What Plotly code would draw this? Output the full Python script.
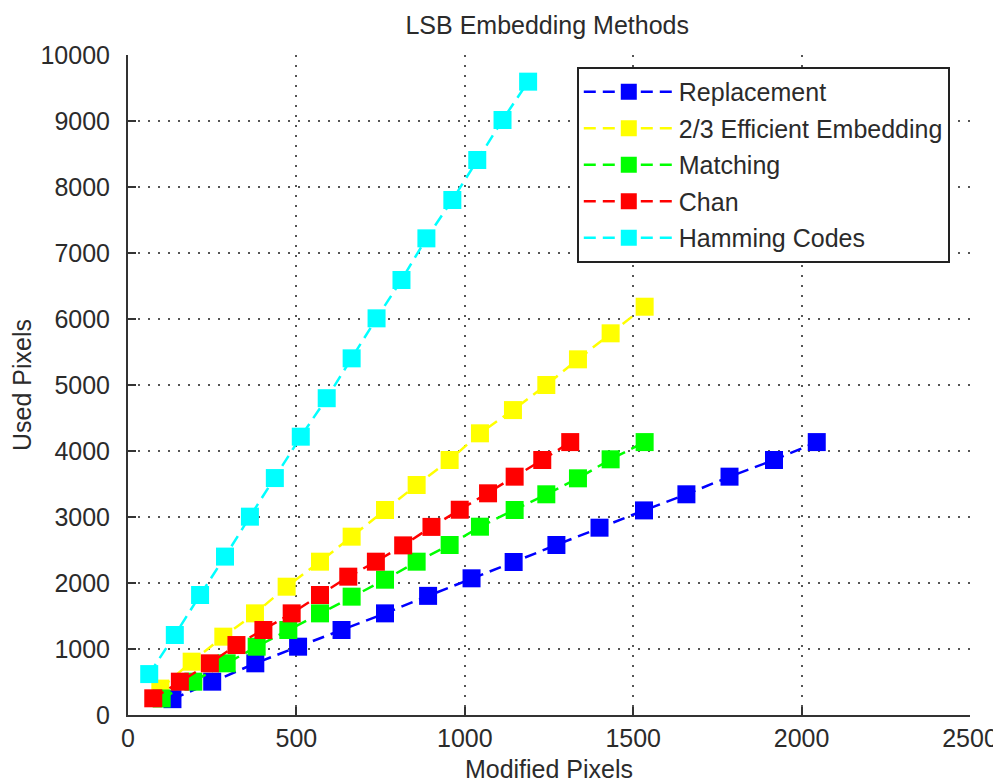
import plotly.graph_objects as go

# Data
series_names = ["Replacement", "2/3 Efficient Embedding", "Matching", "Chan", "Hamming Codes"]
series_colors = ["#0000FF", "#FFFF00", "#00FF00", "#FF0000", "#00FFFF"]

replacement_x = [132, 250, 378, 505, 634, 763, 891, 1020, 1145, 1272, 1400, 1532, 1658, 1786, 1918, 2045]
replacement_y = [240, 505, 783, 1035, 1288, 1540, 1805, 2071, 2318, 2576, 2838, 3100, 3344, 3611, 3864, 4135]

efficient_x = [96, 189, 283, 377, 471, 570, 664, 763, 857, 955, 1045, 1143, 1242, 1336, 1433, 1534]
efficient_y = [400, 808, 1187, 1540, 1944, 2323, 2702, 3106, 3485, 3864, 4268, 4620, 5000, 5389, 5783, 6186]

matching_x = [100, 194, 293, 382, 476, 570, 664, 763, 857, 955, 1045, 1148, 1242, 1336, 1433, 1534]
matching_y = [250, 505, 783, 1035, 1288, 1540, 1793, 2050, 2323, 2576, 2853, 3106, 3344, 3586, 3874, 4135]

chan_x = [75, 154, 243, 322, 402, 486, 570, 654, 736, 817, 901, 985, 1069, 1148, 1230, 1313]
chan_y = [253, 505, 783, 1060, 1288, 1540, 1818, 2096, 2323, 2570, 2850, 3110, 3359, 3611, 3864, 4135]

hamming_x = [63, 139, 214, 288, 362, 436, 513, 590, 664, 738, 812, 886, 963, 1037, 1112, 1188]
hamming_y = [620, 1212, 1818, 2400, 3005, 3590, 4217, 4800, 5404, 6010, 6591, 7222, 7803, 8409, 9015, 9596]

x_ticks = [0, 500, 1000, 1500, 2000, 2500]
y_ticks = [0, 1000, 2000, 3000, 4000, 5000, 6000, 7000, 8000, 9000, 10000]

title_text = "LSB Embedding Methods"
x_title = "Modified Pixels"
y_title = "Used Pixels"

xs = [replacement_x, efficient_x, matching_x, chan_x, hamming_x]
ys = [replacement_y, efficient_y, matching_y, chan_y, hamming_y]

FONT = "Liberation Sans, Arial, sans-serif"
TXT = "#2b2b2b"
FS = 25

fig = go.Figure()
for name, color, x, y in zip(series_names, series_colors, xs, ys):
    fig.add_trace(go.Scatter(
        x=x, y=y, name=name, mode="lines+markers", legendgroup=name,
        line=dict(color=color, width=2.5, dash="12px,7px"),
        marker=dict(symbol="square", size=18, color=color, line=dict(width=0)),
    ))

# the page body has an 8px default margin, so the figure is 8px smaller
fig.update_layout(
    width=993, height=775,
    margin=dict(l=120, r=31, t=47, b=68, autoexpand=False),
    paper_bgcolor="white", plot_bgcolor="white",
    font=dict(family=FONT, size=FS, color=TXT),
    title=dict(text=title_text, x=0.543, xanchor="center", y=0.978, yanchor="middle",
               font=dict(family=FONT, size=FS, color=TXT)),
    showlegend=True,
    legend=dict(
        x=0.533, y=0.982, xanchor="left", yanchor="top",
        bgcolor="white", bordercolor="#222222", borderwidth=2,
        font=dict(family=FONT, size=FS, color=TXT),
        itemwidth=90, tracegroupgap=1,
    ),
)

fig.update_xaxes(
    range=[0, 2500], tickvals=x_ticks, ticktext=[str(v) for v in x_ticks],
    showline=True, linecolor="#333333", linewidth=2,
    ticks="inside", ticklen=8, tickcolor="#333333", tickwidth=1.5,
    showgrid=True, gridcolor="#555555", gridwidth=1.5, griddash="2px,8px",
    zeroline=False, mirror=False, automargin=False,
    tickfont=dict(family=FONT, size=FS, color=TXT),
    title=dict(text=x_title, font=dict(family=FONT, size=FS, color=TXT), standoff=10),
)
fig.update_yaxes(
    range=[0, 10000], tickvals=y_ticks, ticktext=[str(v) for v in y_ticks],
    showline=True, linecolor="#333333", linewidth=2,
    ticks="inside", ticklen=8, tickcolor="#333333", tickwidth=1.5,
    showgrid=True, gridcolor="#555555", gridwidth=1.5, griddash="2px,8px",
    zeroline=False, mirror=False, automargin=False,
    tickfont=dict(family=FONT, size=FS, color=TXT),
    ticklabelstandoff=11,
    title=dict(text=y_title, font=dict(family=FONT, size=FS, color=TXT), standoff=13),
)

fig.write_html("out.html")
